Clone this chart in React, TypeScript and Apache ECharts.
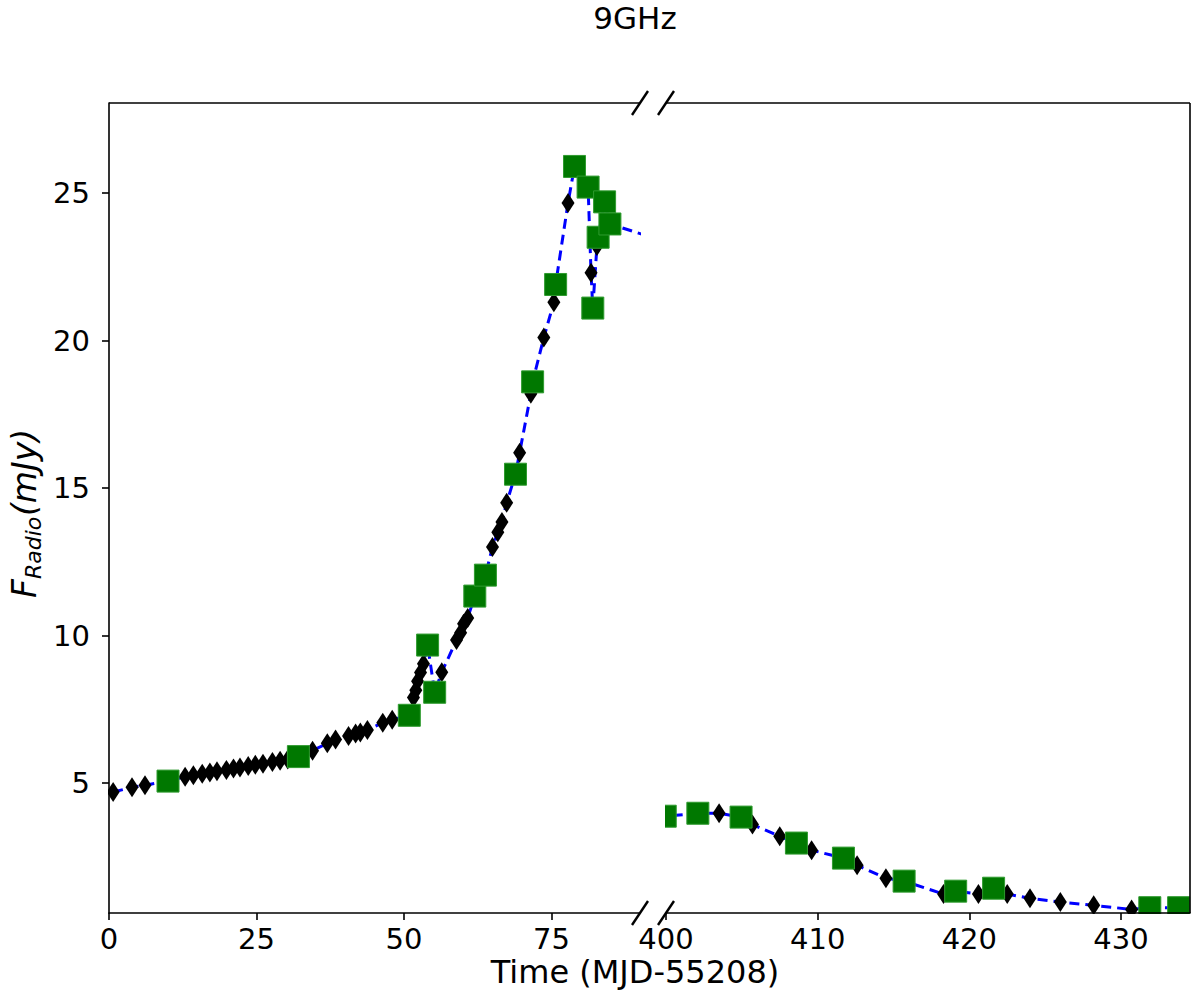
import React, { useEffect, useRef } from "react";
import * as echarts from "echarts";

// Black diamonds (time, flux)
const diamondX = [
  0.7, 3.9, 6.1, 12.9, 14.3, 15.8, 17.1, 18.3, 19.9, 21.1, 22.2, 23.6, 24.8, 26.1, 27.7, 29.0, 30.3,
  34.5, 37.0, 38.4, 40.6, 41.8, 42.6, 43.8, 46.4, 48.0, 51.6, 52.0, 52.3, 52.8, 53.3, 56.4, 58.9,
  59.6, 60.1, 60.8, 65.0, 65.9, 66.6, 67.4, 69.6, 71.5, 73.7, 75.4, 77.8, 81.7, 82.7,
  403.5, 405.7, 407.5, 409.6, 412.6, 414.5, 418.3, 420.6, 422.5, 424.0, 426.0, 428.2, 430.7,
];
const diamondY = [
  4.7, 4.86, 4.93, 5.22, 5.27, 5.32, 5.36, 5.4, 5.45, 5.5, 5.53, 5.58, 5.62, 5.66, 5.72, 5.76, 5.8,
  6.1, 6.35, 6.48, 6.6, 6.68, 6.72, 6.8, 7.05, 7.15, 7.9, 8.15, 8.45, 8.75, 9.05, 8.76, 9.85,
  10.1, 10.4, 10.6, 13.0, 13.5, 13.85, 14.5, 16.2, 18.2, 20.1, 21.3, 24.66, 22.3, 23.2,
  3.98, 3.6, 3.2, 2.73, 2.22, 1.78, 1.24, 1.24, 1.24, 1.1, 0.97, 0.86, 0.72,
];
// Green squares (time, flux)
const squareX = [
  10.0, 32.1, 50.9, 54.0, 55.2, 62.0, 63.8, 68.9, 71.8, 75.7, 78.9, 81.2, 82.0, 82.9, 84.0, 84.9,
  399.95, 402.1, 404.95, 408.6, 411.7, 415.7, 419.1, 421.6, 431.9, 433.8,
];
const squareY = [
  5.07, 5.9, 7.3, 9.68, 8.08, 11.34, 12.05, 15.47, 18.6, 21.9, 25.9, 25.2, 21.1, 23.5, 24.7, 23.95,
  3.88, 3.98, 3.85, 2.97, 2.46, 1.68, 1.34, 1.44, 0.78, 0.78,
];
const yTicks = [5, 10, 15, 20, 25];
const xTicksLeft = [0, 25, 50, 75];
const xTicksRight = [400, 410, 420, 430];

const FONT = "DejaVu Sans";

export default function App() {
  const ref = useRef<HTMLDivElement>(null);
  useEffect(() => {
    document.body.style.margin = "0";
    if (!ref.current) return;
    const chart = echarts.init(ref.current, null, { renderer: "svg" });

    const diamonds = diamondX.map((x, i) => [x, diamondY[i]]);
    const squares = squareX.map((x, i) => [x, squareY[i]]);
    const all = [...diamonds, ...squares].sort((a, b) => a[0] - b[0]);
    const dL = diamonds.filter((p) => p[0] < 200);
    const dR = diamonds.filter((p) => p[0] >= 200);
    const sL = squares.filter((p) => p[0] < 200);
    const sR = squares.filter((p) => p[0] >= 200);

    const lineStyle = { color: "#0000ff", width: 3, type: [10, 6] as any, opacity: 1 };
    const diamondStyle = {
      type: "scatter" as const,
      symbol: "diamond",
      symbolSize: [13, 20],
      itemStyle: { color: "#000000", opacity: 1 },
      z: 3,
    };
    const squareStyle = {
      type: "scatter" as const,
      symbol: "rect",
      symbolSize: 22,
      itemStyle: { color: "#007800", borderColor: "#2f9b2f", borderWidth: 1, opacity: 1 },
      z: 4,
    };

    const top = 103;
    const bottom = 913;
    const lx0 = 109, lx1 = 640, rx0 = 666, rx1 = 1190;

    const xAxisCommon = {
      type: "value" as const,
      z: 10,
      axisLine: { show: true, onZero: false, lineStyle: { color: "#000", width: 1.6 } },
      axisTick: { show: true, inside: false, length: 7, lineStyle: { color: "#000", width: 1.6 } },
      axisLabel: { color: "#000", fontSize: 29, fontFamily: FONT, margin: 11 },
      splitLine: { show: false },
    };

    const slash = (cx: number, cy: number) => ({
      type: "line",
      z: 20,
      shape: { x1: cx - 8, y1: cy + 12, x2: cx + 8, y2: cy - 12 },
      style: { stroke: "#000", lineWidth: 2.4 },
    });

    chart.setOption({
      animation: false,
      grid: [
        { left: lx0, top, width: lx1 - lx0, height: bottom - top },
        { left: rx0, top, width: rx1 - rx0, height: bottom - top },
      ],
      xAxis: [
        {
          ...xAxisCommon,
          gridIndex: 0,
          min: 0,
          max: 90,
          axisTick: { ...xAxisCommon.axisTick, customValues: xTicksLeft },
          axisLabel: { ...xAxisCommon.axisLabel, customValues: xTicksLeft },
        },
        {
          ...xAxisCommon,
          gridIndex: 1,
          min: 400,
          max: 434.55,
          axisTick: { ...xAxisCommon.axisTick, customValues: xTicksRight },
          axisLabel: { ...xAxisCommon.axisLabel, customValues: xTicksRight },
        },
      ],
      yAxis: [
        {
          type: "value",
          gridIndex: 0,
          min: 0.6,
          max: 28.05,
          z: 10,
          axisLine: { show: true, onZero: false, lineStyle: { color: "#000", width: 1.6 } },
          axisTick: { show: true, length: 7, lineStyle: { color: "#000", width: 1.6 }, customValues: yTicks },
          axisLabel: { color: "#000", fontSize: 29, fontFamily: FONT, margin: 19, customValues: yTicks },
          splitLine: { show: false },
        },
        {
          type: "value",
          gridIndex: 1,
          min: 0.6,
          max: 28.05,
          show: false,
          splitLine: { show: false },
        },
      ],
      series: [
        {
          type: "line",
          xAxisIndex: 0,
          yAxisIndex: 0,
          data: all,
          showSymbol: false,
          symbol: "none",
          lineStyle,
          clip: true,
          z: 2,
        },
        {
          type: "line",
          xAxisIndex: 1,
          yAxisIndex: 1,
          data: all,
          showSymbol: false,
          symbol: "none",
          lineStyle,
          clip: true,
          z: 2,
        },
        { ...diamondStyle, xAxisIndex: 0, yAxisIndex: 0, data: dL, clip: false },
        { ...diamondStyle, xAxisIndex: 1, yAxisIndex: 1, data: dR, clip: false },
        { ...squareStyle, xAxisIndex: 0, yAxisIndex: 0, data: sL, clip: false },
        { ...squareStyle, xAxisIndex: 1, yAxisIndex: 1, data: sR, clip: false },
      ],
      graphic: [
        // masks emulating clipping of markers
        { type: "rect", z: 6, shape: { x: lx1 + 1, y: 90, width: rx0 - lx1 - 2, height: 850 }, style: { fill: "#fff" } },
        { type: "rect", z: 6, shape: { x: 60, y: bottom + 1, width: 1140, height: 12 }, style: { fill: "#fff" } },
        { type: "rect", z: 6, shape: { x: rx1 + 1, y: 90, width: 20, height: 850 }, style: { fill: "#fff" } },
        { type: "rect", z: 6, shape: { x: 80, y: 90, width: lx0 - 81, height: 850 }, style: { fill: "#fff" } },
        // frame: top spines and right spine
        { type: "line", z: 11, shape: { x1: lx0, y1: top, x2: lx1, y2: top }, style: { stroke: "#000", lineWidth: 1.6 } },
        { type: "line", z: 11, shape: { x1: rx0, y1: top, x2: rx1, y2: top }, style: { stroke: "#000", lineWidth: 1.6 } },
        { type: "line", z: 11, shape: { x1: rx1, y1: top, x2: rx1, y2: bottom }, style: { stroke: "#000", lineWidth: 1.6 } },
        // break marks
        slash(lx1, top),
        slash(rx0, top),
        slash(lx1, bottom),
        slash(rx0, bottom),
        // title
        {
          type: "text",
          z: 20,
          x: 635,
          y: 18,
          style: { text: "9GHz", fill: "#000", font: `31px ${FONT}`, align: "center", verticalAlign: "middle" },
        },
        // x axis label
        {
          type: "text",
          z: 20,
          x: 635,
          y: 972,
          style: { text: "Time (MJD-55208)", fill: "#000", font: `32px ${FONT}`, align: "center", verticalAlign: "middle" },
        },
        // y axis label (rotated)
        {
          type: "group",
          x: 24,
          y: 598,
          rotation: Math.PI / 2,
          z: 20,
          children: [
            { type: "text", x: 0, y: 0, style: { text: "F", fill: "#000", font: `italic 33px ${FONT}`, align: "left", verticalAlign: "middle" } },
            { type: "text", x: 19, y: 9, style: { text: "Radio", fill: "#000", font: `italic 22px ${FONT}`, align: "left", verticalAlign: "middle" } },
            { type: "text", x: 82, y: 0, style: { text: "(mJy)", fill: "#000", font: `italic 33px ${FONT}`, align: "left", verticalAlign: "middle" } },
          ],
        },
      ],
    });
    return () => chart.dispose();
  }, []);
  return <div ref={ref} style={{ width: 1200, height: 995 }} />;
}
